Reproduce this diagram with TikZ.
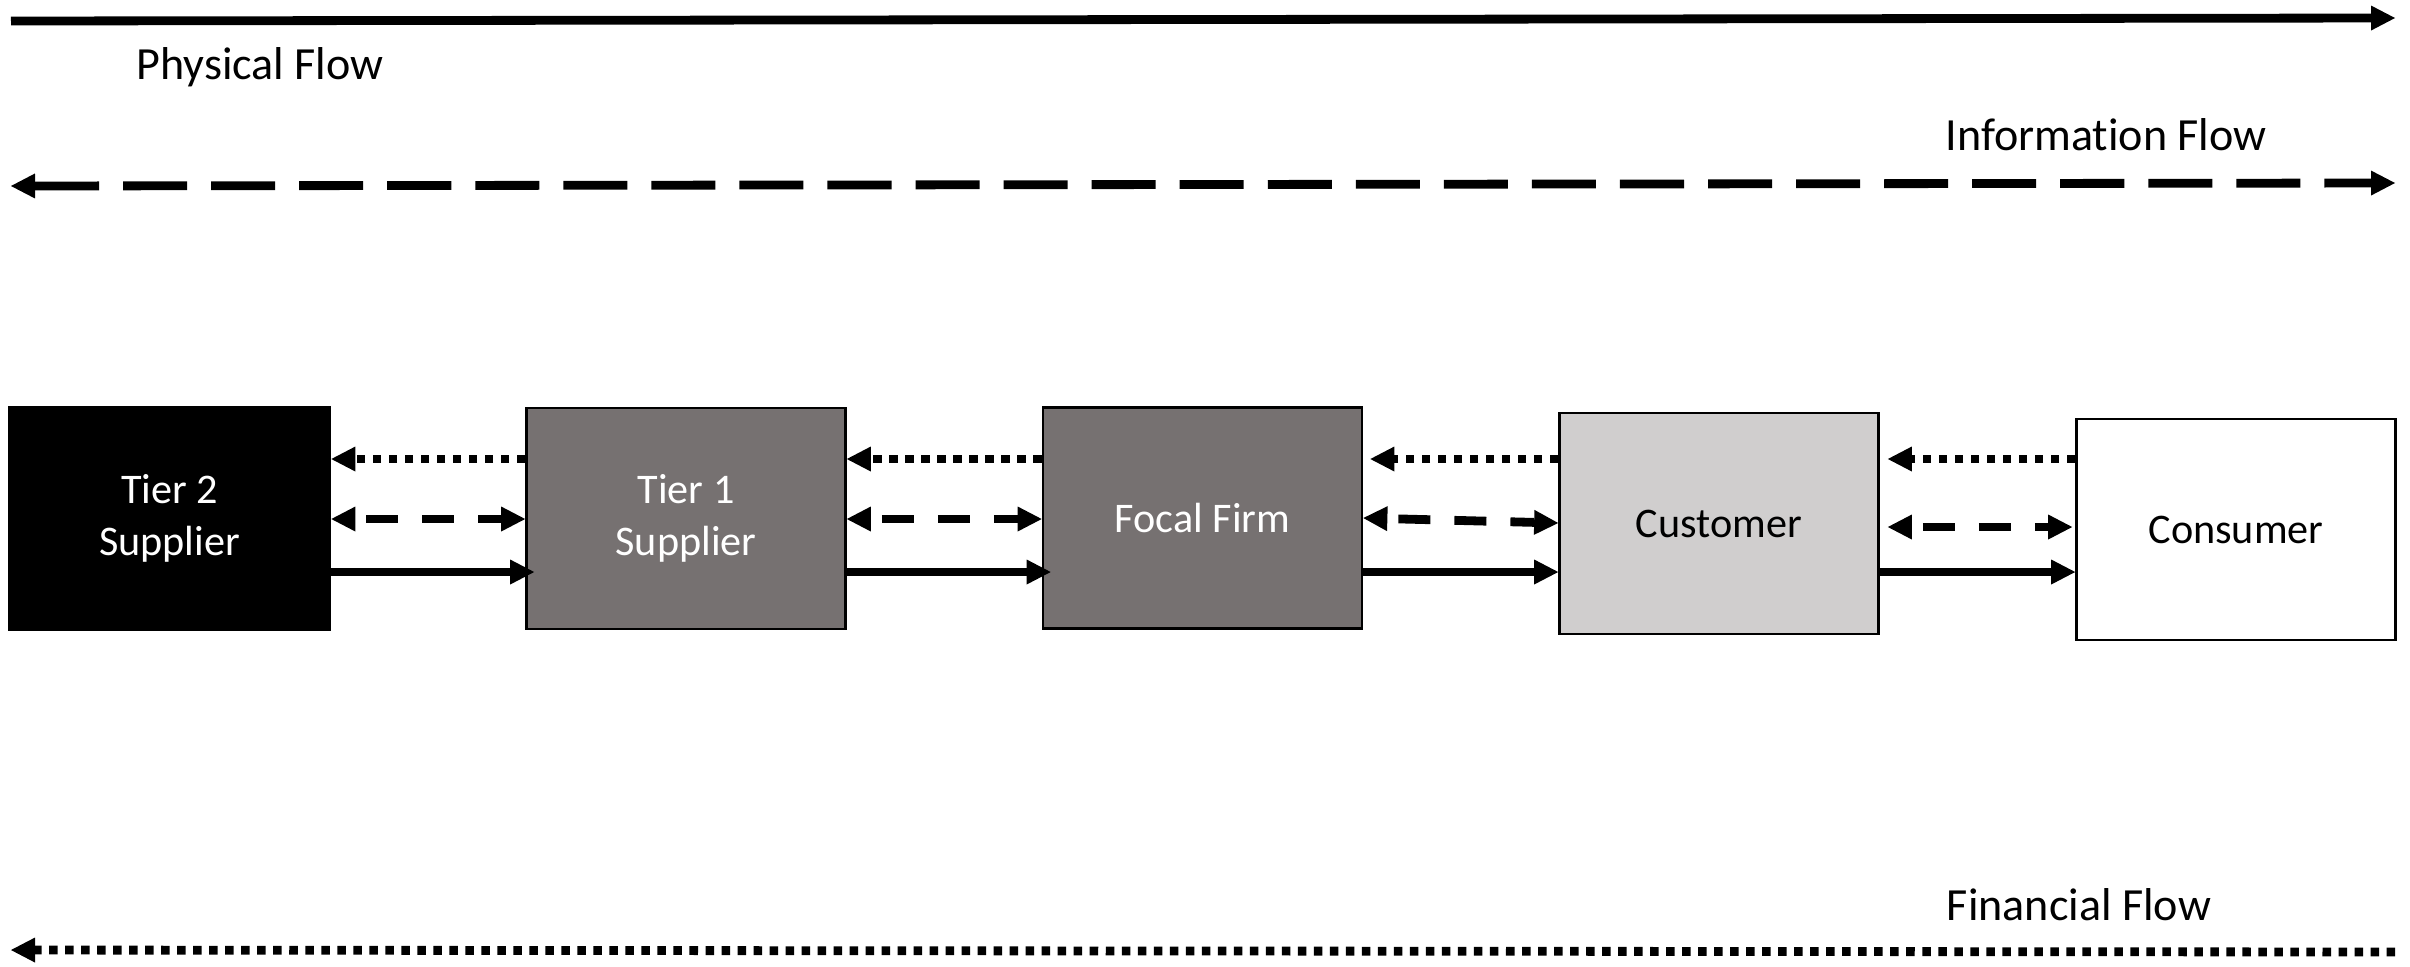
\documentclass[tikz,border=0pt]{standalone}
\usepackage{fontspec}
\setmainfont{Carlito}[Ligatures=NoCommon]
\usetikzlibrary{arrows.meta}

\definecolor{tiergray}{HTML}{767171}
\definecolor{custgray}{HTML}{D0CECE}

\tikzset{
  flowtip/.tip={Triangle[length=0.24cm,width=0.25cm,line width=0pt]},
  box/.style={draw=black, line width=0.025cm, minimum width=3.19cm, minimum height=2.21cm,
    inner sep=0pt, align=center, font=\fontsize{12}{14.6}\selectfont},
  flowlabel/.style={inner sep=0pt, anchor=base, font=\fontsize{13.1}{15.7}\selectfont},
  physarr/.style={line width=0.088cm, -flowtip},
  infoarr/.style={line width=0.088cm, flowtip-flowtip, dash pattern=on 0.64cm off 0.24cm},
  finarr/.style={line width=0.088cm, -flowtip, dash pattern=on 0.085cm off 0.075cm},
  linkinfo/.style={line width=0.088cm, flowtip-flowtip, dash pattern=on 0.32cm off 0.24cm, dash phase=0.45cm},
}

\begin{document}
\begin{tikzpicture}[x=0.01cm, y=-0.01cm]
\useasboundingbox (0,0) rectangle (2410,966);

% end points of the three long flow arrows
\coordinate (physL) at (11,21);
\coordinate (physR) at (2395,18);
\coordinate (infoL) at (11,186);
\coordinate (infoR) at (2395,183);
\coordinate (finL)  at (11,950);
\coordinate (finR)  at (2395,952);

% long flow arrows
\draw[physarr] (physL) -- (physR);
\draw[infoarr] (infoL) -- (infoR);
\draw[finarr]  (finR) -- (finL);

% flow labels
\node[flowlabel] (lphys) at (260,79)  {Physical Flow};
\node[flowlabel] (linfo) at (2106,150) {Information Flow};
\node[flowlabel] (lfin)  at (2079,920) {Financial Flow};

% supply chain members
\node[box, fill=black, text=white, minimum width=3.21cm, minimum height=2.23cm] (t2) at (169.5,518.5) {Tier 2\\Supplier};
\node[box, fill=tiergray, text=white] (t1) at (686,518.5) {Tier 1\\Supplier};
\node[box, fill=tiergray, text=white] (ff) at (1202.5,518) {Focal Firm};
\node[box, fill=custgray, text=black] (cu) at (1719,523.5) {Customer};
\node[box, fill=white, text=black] (co) at (2236,529.5) {Consumer};

% heights of the link rows
\coordinate (rowfin)  at (0,459);
\coordinate (rowinfo) at (0,519);
\coordinate (rowinfoA) at (0,518);
\coordinate (rowinfoB) at (0,523);
\coordinate (rowinfoC) at (0,527);
\coordinate (rowphys) at (0,572);

% Tier 2 <-> Tier 1
\draw[finarr]   (t1.west |- rowfin) -- (t2.east |- rowfin);
\draw[linkinfo] (t2.east |- rowinfo) -- (t1.west |- rowinfo);
\draw[physarr, shorten >=-0.09cm] (t2.east |- rowphys) -- (t1.west |- rowphys);

% Tier 1 <-> Focal Firm
\draw[finarr]   (ff.west |- rowfin) -- (t1.east |- rowfin);
\draw[linkinfo] (t1.east |- rowinfo) -- (ff.west |- rowinfo);
\draw[physarr, shorten >=-0.09cm] (t1.east |- rowphys) -- (ff.west |- rowphys);

% Focal Firm <-> Customer
\draw[finarr, shorten >=0.07cm] (cu.west |- rowfin) -- (ff.east |- rowfin);
\draw[linkinfo] (ff.east |- rowinfoA) -- (cu.west |- rowinfoB);
\draw[physarr]  (ff.east |- rowphys) -- (cu.west |- rowphys);

% Customer <-> Consumer
\draw[finarr, shorten >=0.08cm] (co.west |- rowfin) -- (cu.east |- rowfin);
\draw[linkinfo, shorten <=0.08cm, shorten >=0.03cm] (cu.east |- rowinfoC) -- (co.west |- rowinfoC);
\draw[physarr]  (cu.east |- rowphys) -- (co.west |- rowphys);
\end{tikzpicture}
\end{document}
